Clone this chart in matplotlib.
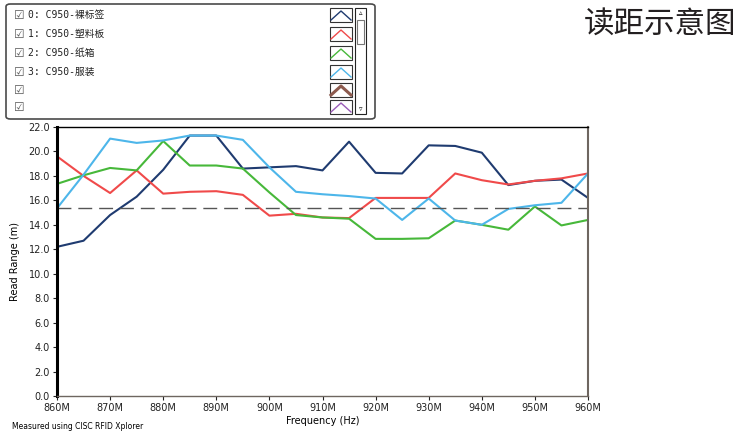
import matplotlib.pyplot as plt
import numpy as np
from matplotlib.patches import FancyBboxPatch, Rectangle

plt.rcParams['font.family'] = ['DejaVu Sans', 'Noto Sans CJK SC']

# frequency points (MHz)
freq = np.arange(860, 961, 5)

# read range (m) per tag
bare_tag = [12.2, 12.7, 14.8, 16.3, 18.5, 21.3, 21.3, 18.6, 18.7, 18.8, 18.45,
            20.8, 18.25, 18.2, 20.5, 20.45, 19.9, 17.25, 17.6, 17.7, 16.2]
plastic = [19.6, 18.0, 16.6, 18.45, 16.55, 16.7, 16.75, 16.45, 14.75, 14.9, 14.6,
           14.55, 16.2, 16.2, 16.2, 18.2, 17.65, 17.3, 17.6, 17.8, 18.2]
carton = [17.35, 18.05, 18.65, 18.45, 20.85, 18.85, 18.85, 18.6, 16.65, 14.8, 14.6,
          14.5, 12.85, 12.85, 12.9, 14.35, 14.0, 13.6, 15.5, 13.95, 14.4]
clothing = [15.35, 18.1, 21.05, 20.7, 20.9, 21.3, 21.3, 20.95, 18.7, 16.7, 16.5,
            16.35, 16.15, 14.4, 16.15, 14.35, 14.0, 15.3, 15.6, 15.8, 18.2]
threshold = 15.35

series = [bare_tag, plastic, carton, clothing]
names = ['0: C950-裸标签', '1: C950-塑料板', '2: C950-纸箱', '3: C950-服装', '', '']
colors = ['#1f3b70', '#f04a4a', '#47b83a', '#4db6ea', '#8c5a4e', '#9a5cb8']

fig = plt.figure(figsize=(7.4, 4.4), dpi=100)
ax = fig.add_axes([57 / 740, 44 / 440, 531 / 740, 269 / 440])

for vals, c in zip(series, colors):
    ax.plot(freq, vals, color=c, lw=1.5)
ax.axhline(threshold, color='#555555', lw=1, dashes=(10, 5))

ax.set_xlim(860, 960)
ax.set_ylim(0, 22)
ax.set_xticks(np.arange(860, 961, 10))
ax.set_xticklabels([f'{v}M' for v in range(860, 961, 10)])
ax.set_yticks(np.arange(0, 23, 2))
ax.set_yticklabels([f'{v:.1f}' for v in range(0, 23, 2)])
ax.tick_params(labelsize=7, length=3, width=0.8, pad=2, colors='#222222')
ax.set_xlabel('Frequency (Hz)', fontsize=7, labelpad=2)
ax.set_ylabel('Read Range (m)', fontsize=7, labelpad=6)

ax.spines['left'].set_linewidth(2.2)
ax.spines['left'].set_color('black')
ax.spines['left'].set_linestyle((0, (5, 1)))
ax.spines['top'].set_color('black')
ax.spines['top'].set_linewidth(1)
ax.spines['right'].set_color('#6e6660')
ax.spines['right'].set_linewidth(1.5)
ax.spines['bottom'].set_color('#6e6660')
ax.spines['bottom'].set_linewidth(1)

fig.text(12 / 740, 1 - 426 / 440, 'Measured using CISC RFID Xplorer', fontsize=5.5,
         va='center')
fig.text(736 / 740, 1 - 24 / 440, '读距示意图', fontsize=22, ha='right', va='center',
         color='#231f20', family=['Noto Sans CJK SC'])

# legend panel
W, H = 740, 440
def fx(x):
    return x / W
def fy(y):
    return 1 - y / H

fig.patches.append(FancyBboxPatch((fx(6), fy(119)), fx(369), 115 / H,
                                  boxstyle='round,pad=0,rounding_size=0.006',
                                  transform=fig.transFigure, fill=False,
                                  ec='#4a4a4a', lw=1.2))
rows = [15, 34, 53, 72, 90, 107]
for name, c, y in zip(names, colors, rows):
    fig.text(fx(14), fy(y), '☑', fontsize=8.5, va='center', color='#555555')
    if name:
        fig.text(fx(28), fy(y), name, fontsize=7, va='center', color='#222222',
                 family=['DejaVu Sans Mono', 'Noto Sans CJK SC'])
    fig.patches.append(Rectangle((fx(330), fy(y + 7)), fx(22), 14 / H,
                                 transform=fig.transFigure, fill=False,
                                 ec='#333333', lw=0.8))
    lw = 2.2 if c == '#8c5a4e' else 1
    fig.lines.append(plt.Line2D([fx(331), fx(341), fx(351)],
                                [fy(y + 5), fy(y - 4), fy(y + 5)],
                                transform=fig.transFigure, color=c, lw=lw))
# scrollbar
fig.patches.append(Rectangle((fx(355), fy(114)), fx(11), 106 / H,
                             transform=fig.transFigure, fill=False,
                             ec='#222222', lw=0.8))
fig.patches.append(Rectangle((fx(357), fy(44)), fx(7), 24 / H,
                             transform=fig.transFigure, fill=False,
                             ec='#777777', lw=0.8))
fig.text(fx(360.5), fy(13), '▵', fontsize=5, ha='center', va='center')
fig.text(fx(360.5), fy(109), '▿', fontsize=5, ha='center', va='center')

fig.savefig('out.png', dpi=100)
